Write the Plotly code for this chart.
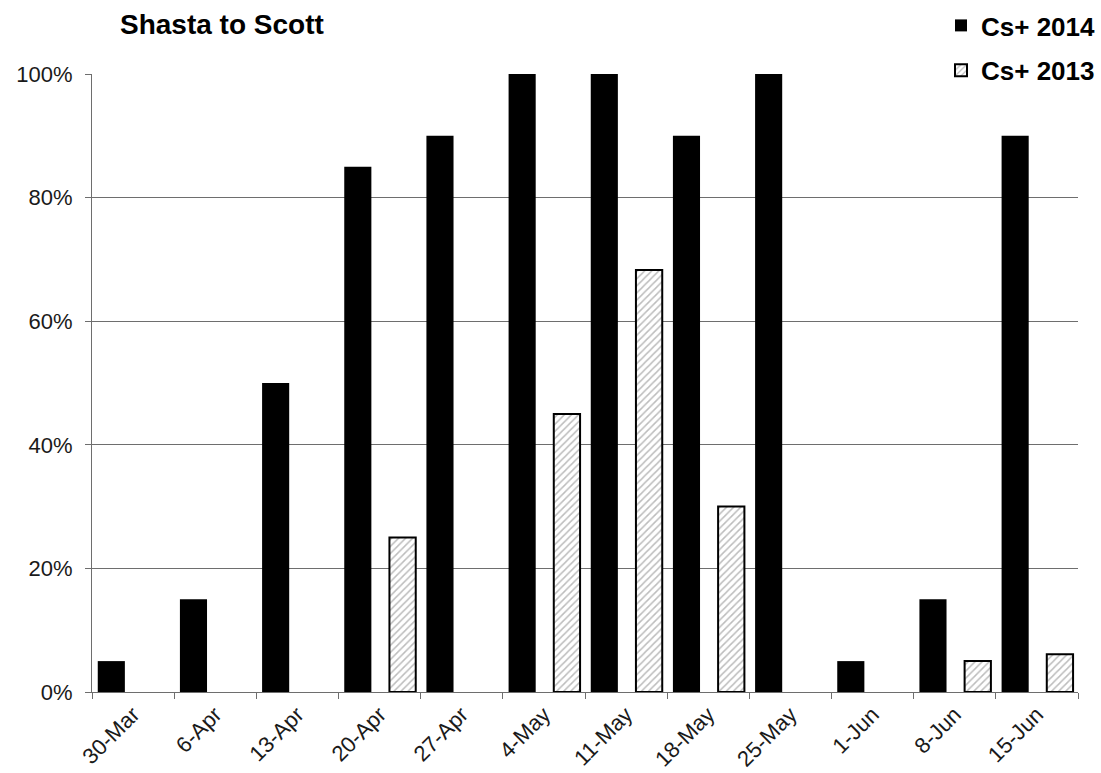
import plotly.graph_objects as go

# Weekly categories
weeks = ["30-Mar", "6-Apr", "13-Apr", "20-Apr", "27-Apr", "4-May",
         "11-May", "18-May", "25-May", "1-Jun", "8-Jun", "15-Jun"]

# Share of Cs+ fish per week (fraction)
cs_2014 = [0.05, 0.15, 0.50, 0.85, 0.90, 1.00, 1.00, 0.90, 1.00, 0.05, 0.15, 0.90]
cs_2013 = [None, None, None, 0.25, None, 0.45, 0.683, 0.30, None, None, 0.05, 0.061]

FONT = "Arial, 'Liberation Sans', sans-serif"
GRID = "#6e6e6e"

fig = go.Figure()

fig.add_trace(go.Bar(
    x=weeks, y=cs_2014, name="Cs+ 2014",
    width=0.33, offset=-0.43,
    marker=dict(color="black", line=dict(width=0)),
    legendgroup="a",
))

fig.add_trace(go.Bar(
    x=weeks, y=cs_2013, name="Cs+ 2013",
    width=0.32, offset=0.12,
    marker=dict(
        color="white",
        line=dict(color="black", width=2),
        pattern=dict(shape="/", fgcolor="#7a7a7a", bgcolor="white",
                     size=5, solidity=0.3),
    ),
    legendgroup="b",
))

fig.update_layout(
    width=1101, height=773,
    margin=dict(l=92, r=23, t=74, b=81, autoexpand=False),
    paper_bgcolor="white", plot_bgcolor="white",
    barmode="overlay",
    font=dict(family=FONT, color="#1a1a1a"),
    title=dict(
        text="Shasta to Scott",
        font=dict(family=FONT, size=28, color="black", weight="bold"),
        xref="container", yref="container",
        x=120 / 1101, xanchor="left",
        y=1 - 24 / 773, yanchor="middle",
    ),
    legend=dict(
        xref="container", yref="container",
        x=1.0, xanchor="right",
        y=1.0 - 2 / 773, yanchor="top",
        font=dict(family=FONT, size=26, color="black", weight="bold"),
        tracegroupgap=8,
        itemwidth=30,
        bgcolor="rgba(0,0,0,0)",
    ),
    showlegend=True,
)

fig.update_xaxes(
    type="category",
    range=[-0.5, len(weeks) - 0.5],
    showline=True, linecolor=GRID, linewidth=1,
    ticks="outside", tickson="boundaries", ticklen=6, tickcolor=GRID,
    tickangle=-45,
    tickfont=dict(family=FONT, size=22, color="#1a1a1a"),
    showgrid=False,
)

fig.update_yaxes(
    range=[0, 1],
    dtick=0.2, tickformat=".0%",
    showline=True, linecolor=GRID, linewidth=1,
    ticks="outside", ticklen=6, tickcolor=GRID,
    ticklabelstandoff=8,
    showgrid=True, gridcolor=GRID, gridwidth=1,
    zeroline=False,
    tickfont=dict(family=FONT, size=22, color="#1a1a1a"),
)

fig.write_html("out.html")
